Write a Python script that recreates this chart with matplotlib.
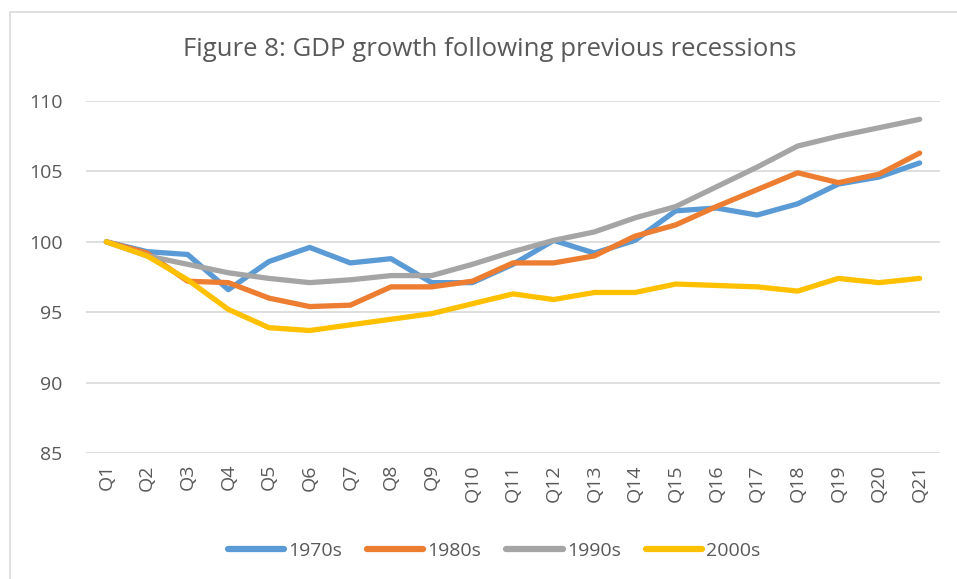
import matplotlib
matplotlib.use("Agg")
import matplotlib.pyplot as plt
from matplotlib.patches import Rectangle

quarters = [f"Q{i}" for i in range(1, 22)]
s1970 = [100, 99.3, 99.1, 96.6, 98.6, 99.6, 98.5, 98.8, 97.1, 97.1, 98.4, 100.1, 99.2, 100.1, 102.2, 102.4, 101.9, 102.7, 104.1, 104.6, 105.6]
s1980 = [100, 99.2, 97.2, 97.1, 96.0, 95.4, 95.5, 96.8, 96.8, 97.2, 98.5, 98.5, 99.0, 100.4, 101.2, 102.5, 103.7, 104.9, 104.2, 104.8, 106.3]
s1990 = [100, 99.0, 98.4, 97.8, 97.4, 97.1, 97.3, 97.6, 97.6, 98.4, 99.3, 100.1, 100.7, 101.7, 102.5, 103.9, 105.3, 106.8, 107.5, 108.1, 108.7]
s2000 = [100, 99.0, 97.3, 95.2, 93.9, 93.7, 94.1, 94.5, 94.9, 95.6, 96.3, 95.9, 96.4, 96.4, 97.0, 96.9, 96.8, 96.5, 97.4, 97.1, 97.4]
series = [("1970s", s1970, "#5B9BD5"), ("1980s", s1980, "#ED7D31"),
          ("1990s", s1990, "#A5A5A5"), ("2000s", s2000, "#FFC000")]
yticks = [85, 90, 95, 100, 105, 110]

plt.rcParams['font.family'] = ['Open Sans', 'DejaVu Sans']
txt = "#595959"

fig = plt.figure(figsize=(9.57, 5.79), dpi=100)
W, H = 957, 579
ax = fig.add_axes([86 / W, 1 - 453 / H, (940 - 86) / W, (453 - 101) / H])

x = list(range(len(quarters)))
for name, vals, col in series:
    ax.plot(x, vals, color=col, lw=3.8, label=name, solid_capstyle='round', solid_joinstyle='round')

ax.set_xlim(-0.5, len(quarters) - 0.5)
ax.set_ylim(85, 110)
ax.set_yticks(yticks)
ax.set_yticklabels([str(v) for v in yticks], fontsize=14, color=txt)
ax.set_xticks(x)
ax.set_xticklabels(quarters, rotation=90, fontsize=14, color=txt)
ax.tick_params(axis='both', length=0)
ax.tick_params(axis='y', pad=17)
ax.tick_params(axis='x', pad=8)
ax.grid(axis='y', color='#D9D9D9', lw=1.2)
ax.set_axisbelow(True)
for s in ax.spines.values():
    s.set_visible(False)

fig.text(490 / W, 1 - 50 / H, "Figure 8: GDP growth following previous recessions",
         ha='center', va='center', fontsize=18.5, color=txt)

leg = fig.legend(loc='center', bbox_to_anchor=(494 / W, 1 - 551 / H), ncol=4, frameon=False,
                 fontsize=14, handlelength=2.9, handletextpad=0.2, columnspacing=1.3)
for t in leg.get_texts():
    t.set_color(txt)
for h in leg.get_lines():
    h.set_linewidth(4.5)

fig.patches.append(Rectangle((10 / W, -0.1), 1.2, 1 - 12 / H + 0.1, transform=fig.transFigure,
                             fill=False, edgecolor='#D9D9D9', lw=1.2))

fig.savefig("out.png", dpi=100)
